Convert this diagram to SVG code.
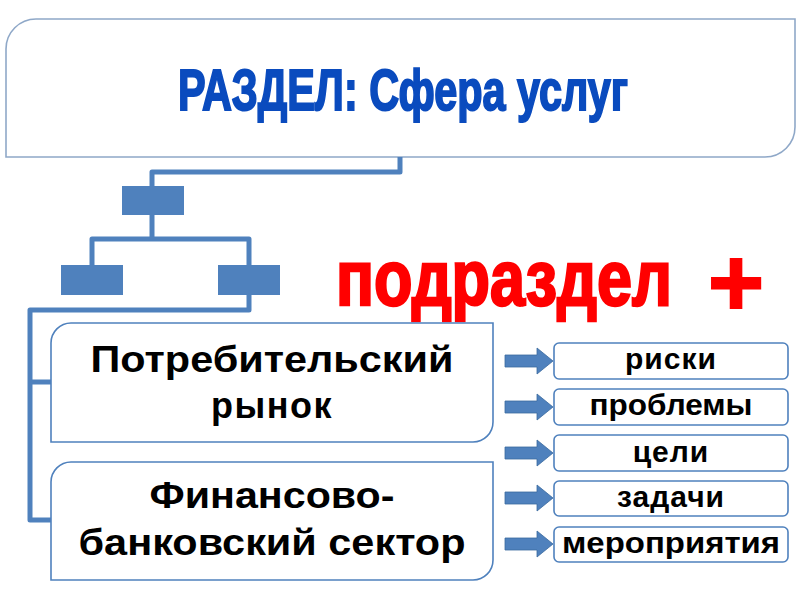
<svg xmlns="http://www.w3.org/2000/svg" width="800" height="593" viewBox="0 0 800 593">
<style>
.conn{fill:none;stroke:#4F81BD;stroke-width:5;stroke-linejoin:round}
.blk{fill:#4F81BD}
.box{fill:#fff;stroke:#4F81BD;stroke-width:1.6}
.sbox{fill:#fff;stroke:#4F81BD;stroke-width:1.6}
.bt{font-family:"Liberation Sans",Arial,sans-serif;font-weight:bold;fill:#000;text-anchor:middle}
.arr{fill:#4F81BD;stroke:#3A6A9E;stroke-width:0.8}
</style>
<defs>
<path id="arrow" d="M505,-6 H537 V-13 L553,0 L537,13 V6 H505 Z"/>
</defs>
<rect width="800" height="593" fill="#fff"/>
<g id="top">
<path d="M6,157 V49 A30,30 0 0 1 36,19 H795 V127 A30,30 0 0 1 765,157 Z" fill="#fff" stroke="#8FA8C8" stroke-width="1.6"/>
<text x="178" y="110" font-family="'Liberation Sans',Arial,sans-serif" font-weight="bold" font-size="58" fill="#0A4BBE" stroke="#0A4BBE" stroke-width="2" textLength="450" lengthAdjust="spacingAndGlyphs">РАЗДЕЛ: Сфера услуг</text>
</g>
<g id="connectors">
<path class="conn" d="M400,157 V172 H152 V186"/>
<path class="conn" d="M152,215 V239 M92,265 V239 H249 V265"/>
<path class="conn" d="M249,295 V310 H30 V520 H51 M30,382 H51"/>
</g>
<g id="org-icon">
<rect class="blk" x="122" y="186" width="62" height="29"/>
<rect class="blk" x="61" y="265" width="62" height="30"/>
<rect class="blk" x="218" y="265" width="62" height="30"/>
</g>
<g id="subtitle">
<text x="336" y="305" font-family="'Liberation Sans',Arial,sans-serif" font-weight="bold" font-size="77" fill="#FF0000" stroke="#FF0000" stroke-width="2.5"><tspan textLength="336" lengthAdjust="spacingAndGlyphs">подраздел</tspan><tspan x="708" y="316" font-size="96" stroke-width="2">+</tspan></text>
</g>
<g id="node-consumer">
<path class="box" d="M51,442 V343 A20,20 0 0 1 71,323 H493 V422 A20,20 0 0 1 473,442 Z"/>
<text class="bt" x="272" y="372" font-size="36" textLength="363" lengthAdjust="spacingAndGlyphs">Потребительский</text>
<text class="bt" x="272" y="418" font-size="36" letter-spacing="1.5">рынок</text>
</g>
<g id="node-finance">
<path class="box" d="M51,580 V482 A20,20 0 0 1 71,462 H493 V560 A20,20 0 0 1 473,580 Z"/>
<text class="bt" x="272" y="508" font-size="36" textLength="245" lengthAdjust="spacingAndGlyphs">Финансово-</text>
<text class="bt" x="272" y="555" font-size="36" textLength="387" lengthAdjust="spacingAndGlyphs">банковский сектор</text>
</g>
<g id="arrows">
<use href="#arrow" class="arr" transform="translate(0,361)"/>
<use href="#arrow" class="arr" transform="translate(0,407)"/>
<use href="#arrow" class="arr" transform="translate(0,453)"/>
<use href="#arrow" class="arr" transform="translate(0,498)"/>
<use href="#arrow" class="arr" transform="translate(0,544)"/>
</g>
<g id="item-risks">
<rect class="sbox" x="554" y="343" width="234" height="36" rx="5"/>
<text class="bt" x="671" y="369" font-size="30" letter-spacing="1">риски</text>
</g>
<g id="item-problems">
<rect class="sbox" x="554" y="389" width="234" height="36" rx="5"/>
<text class="bt" x="671" y="415" font-size="30" textLength="163" lengthAdjust="spacingAndGlyphs">проблемы</text>
</g>
<g id="item-goals">
<rect class="sbox" x="554" y="435" width="234" height="36" rx="5"/>
<text class="bt" x="671" y="462" font-size="30" letter-spacing="1">цели</text>
</g>
<g id="item-tasks">
<rect class="sbox" x="554" y="481" width="234" height="35" rx="5"/>
<text class="bt" x="671" y="507" font-size="30" letter-spacing="1">задачи</text>
</g>
<g id="item-measures">
<rect class="sbox" x="554" y="527" width="234" height="35" rx="5"/>
<text class="bt" x="671" y="553" font-size="30" textLength="218" lengthAdjust="spacingAndGlyphs">мероприятия</text>
</g>
</svg>
